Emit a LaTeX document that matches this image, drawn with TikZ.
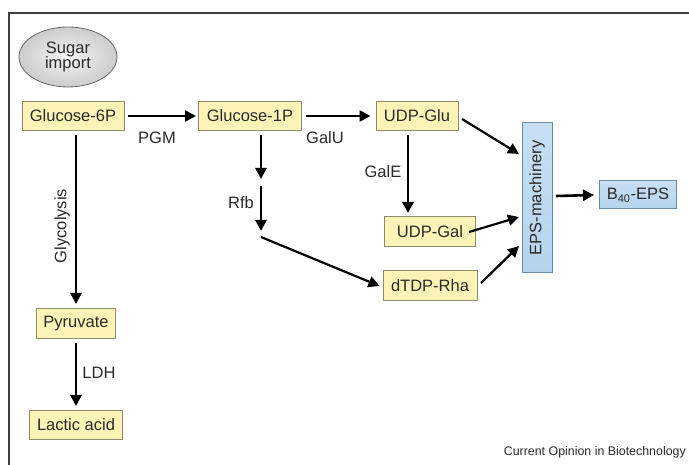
\documentclass[tikz,border=0pt]{standalone}
\usepackage{fontspec}
\setmainfont{Liberation Sans}
\usetikzlibrary{arrows.meta,shapes.geometric}
\definecolor{boxfill}{HTML}{FBF4B6}
\definecolor{boxline}{HTML}{8E8C6A}
\definecolor{bluefill}{HTML}{B6D4EE}
\definecolor{blueline}{HTML}{6D8CA8}
\definecolor{txt}{HTML}{2A2A2A}
\tikzset{
  ybox/.style={draw=boxline, line width=1pt, fill=boxfill, inner sep=0pt, text=txt,
    font=\fontsize{16.5}{18}\selectfont, minimum height=29pt},
  bbox/.style={draw=blueline, line width=1pt, top color=bluefill!75, bottom color=bluefill, inner sep=0pt, text=txt,
    font=\fontsize{16.5}{18}\selectfont},
  arr/.style={line width=2.6pt, -{Triangle[length=11pt,width=11pt]}},
  thinarr/.style={line width=2.2pt, -{Triangle[length=11pt,width=11pt]}},
  lbl/.style={text=txt, font=\fontsize{16.5}{18}\selectfont, inner sep=0pt},
}
\begin{document}
\begin{tikzpicture}[x=1pt,y=-1pt]
\useasboundingbox (0,0) rectangle (689,465);
\fill[white] (0,0) rectangle (689,465);
% frame
\draw[line width=2pt, black!75] (689,13) -- (9,13) -- (9,465);
% sugar import
\node[ellipse, draw=black!60, line width=0.8pt, inner color=gray!8, outer color=gray!40,
  minimum width=98pt, minimum height=60pt, inner sep=0pt, text=txt,
  font=\fontsize{16.5}{18}\selectfont, align=center] (sugar) at (68,57) {Sugar\\[-3pt]import};
% nodes
\node[ybox, minimum width=102pt] (g6p) at (73,116) {Glucose-6P};
\node[ybox, minimum width=103pt] (g1p) at (250,116) {Glucose-1P};
\node[ybox, minimum width=82pt] (udpglu) at (417,116) {UDP-Glu};
\node[ybox, minimum width=91pt, minimum height=30pt] (udpgal) at (430,232) {UDP-Gal};
\node[ybox, minimum width=94pt, minimum height=30pt] (dtdp) at (430,286) {dTDP-Rha};
\node[ybox, minimum width=79pt, minimum height=30pt] (pyr) at (76,324) {Pyruvate};
\node[ybox, minimum width=93pt] (lac) at (76,425) {Lactic acid};
\node[bbox, minimum width=30pt, minimum height=150pt] (eps) at (537,198) {};
\node[lbl, rotate=90] (epstext) at (eps.center) {EPS-machinery};
\node[bbox, minimum width=77pt, minimum height=28pt] (b40) at (638,195) {B$_{\mbox{\fontsize{11}{12}\selectfont 40}}$-EPS};
% coordinates
\coordinate (g6pout) at (128,116);
\coordinate (g1pout) at (306,116);
\coordinate (glyctop) at (76,135);
\coordinate (glycend) at (76,304);
\coordinate (ldhtop) at (76,343);
\coordinate (ldhend) at (76,406);
\coordinate (galetop) at (408,135);
\coordinate (galeend) at (408,213);
\coordinate (rfbtop) at (261,135);
\coordinate (rfbmid1) at (261,179);
\coordinate (rfbmid2) at (261,186);
\coordinate (rfbend) at (261,231);
\coordinate (rfbturn) at (261,237);
\coordinate (gluout) at (462,119);
\coordinate (galout) at (469,232);
\coordinate (rhaout) at (481,283);
\coordinate (epsin1) at (519,154);
\coordinate (epsin2) at (519,217);
\coordinate (epsin3) at (519,246);
\coordinate (epsout) at (556,196);
% arrows
\draw[arr] (g6pout) -- ([xshift=-2pt]g1p.west);
\draw[arr] (g1pout) -- ([xshift=-5pt]udpglu.west);
\draw[arr] (glyctop) -- (glycend);
\draw[arr] (ldhtop) -- (ldhend);
\draw[arr] (galetop) -- (galeend);
\draw[arr] (rfbtop) -- (rfbmid1);
\draw[arr] (rfbmid2) -- (rfbend);
\draw[thinarr] (rfbturn) -- ([xshift=-3pt]dtdp.west);
\draw[thinarr] (gluout) -- (epsin1);
\draw[thinarr] (galout) -- (epsin2);
\draw[thinarr] (rhaout) -- (epsin3);
\draw[arr] (epsout) -- ([xshift=-5pt]b40.west);
% labels
\node[lbl] (pgm) at (157,138) {PGM};
\node[lbl] (galu) at (325,138) {GalU};
\node[lbl] (gale) at (383,172) {GalE};
\node[lbl] (rfb) at (241,203) {Rfb};
\node[lbl, rotate=90] (glyc) at (62,226) {Glycolysis};
\node[lbl] (ldh) at (99,373) {LDH};
\node[text=txt, font=\fontsize{12.4}{14}\selectfont, inner sep=0pt, anchor=east] (cap) at (686,452) {Current Opinion in Biotechnology};
\end{tikzpicture}
\end{document}
